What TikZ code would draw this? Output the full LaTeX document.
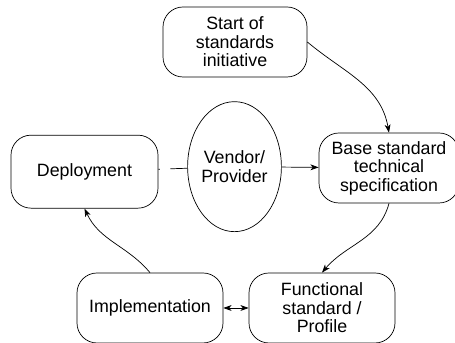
\documentclass[tikz,border=0pt]{standalone}
\usepackage{fontspec}
\setmainfont{Liberation Sans}
\usetikzlibrary{arrows.meta,positioning,shapes.geometric}

\begin{document}
\begin{tikzpicture}[every node/.style={font=\fontsize{15.2}{15.8}\selectfont},
  line width=0.6pt, >={Stealth[length=7pt,width=5pt,inset=2pt]},
  stage/.style={draw, rounded corners=0.6cm, align=center, minimum height=2.1cm}]
\useasboundingbox (0,0) rectangle (13.65,10.29);
\node[stage, minimum width=4.32cm] (start) at (7.05,9.03) {Start of\\ standards\\ initiative};
\node[draw, ellipse, minimum width=2.67cm, minimum height=3.9cm, inner sep=0pt, align=center]
  (vendor) at (7.035,5.29) {Vendor/\\ Provider};
\node[stage, minimum width=4.41cm, minimum height=2.19cm] (deploy) at (2.535,5.14) {Deployment};
\node[stage, minimum width=4.2cm] (base) at (11.67,5.25) {Base standard\\ technical\\ specification};
\node[stage, minimum width=4.38cm] (impl) at (4.5,1.05) {Implementation};
\node[stage, minimum width=4.38cm] (func) at (9.66,1.05) {Functional\\ standard /\\ Profile};
\draw[->] (start.east) to[out=-40, in=100] (base.north);
\draw[->] (base.south) to[out=-105, in=50] (func.north);
\draw[->] (impl.north) to[out=130, in=-65] (deploy.south);
\draw[<->] (impl) -- (func);
\draw[->] (vendor) -- (base);
% dashed link, drawn from the ellipse side
\draw[dash pattern=on 14.5pt off 9pt on 3.5pt off 5pt] (vendor) -- (deploy);
\end{tikzpicture}
\end{document}
